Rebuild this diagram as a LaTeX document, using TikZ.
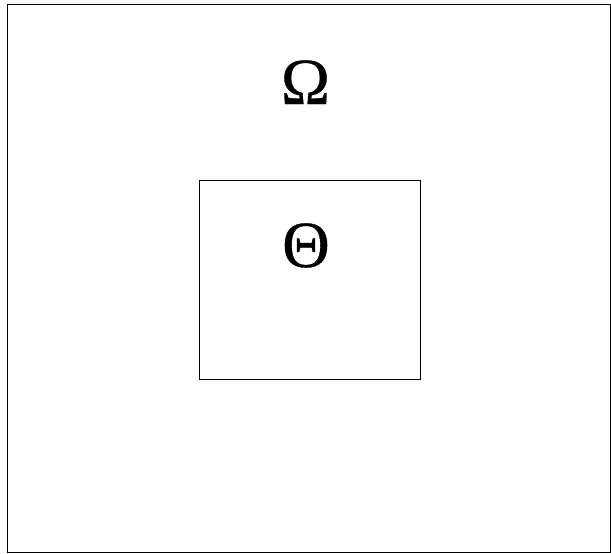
\documentclass[tikz,border=0pt]{standalone}
\usepackage{fontspec}
\setmainfont{Liberation Serif}
\newfontfamily\symfont[FakeBold=0.5]{Liberation Serif}
\begin{document}
\begin{tikzpicture}[x=1pt,y=-1pt,
  box/.style={draw=black,line width=0.9pt},
  sym/.style={inner sep=0pt,anchor=base,font=\symfont\fontsize{66}{70}\selectfont}]
\useasboundingbox (0,0) rectangle (611,554);
\draw[box] (7,4) rectangle (610.5,552);
\draw[box] (199.5,180) rectangle (420,379);
\node[sym] (omega) at (305.5,104) {Ω};
\node[sym] (theta) at (306,267) {Θ};
\end{tikzpicture}
\end{document}
